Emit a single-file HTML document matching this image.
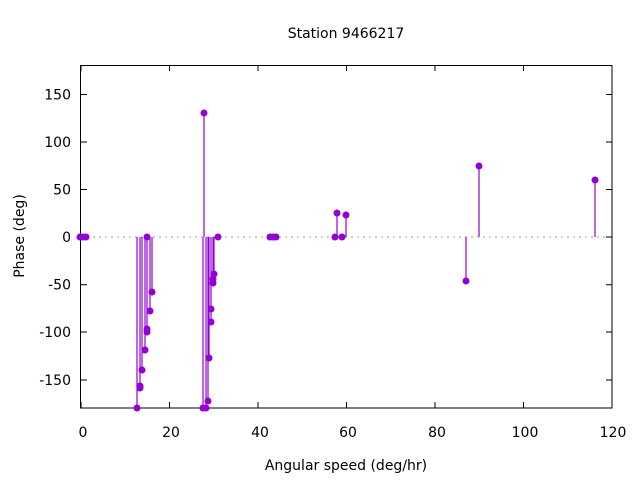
<!DOCTYPE html><html><head><style>body{margin:0;background:#fff}</style></head><body>
<svg width="640" height="480" xmlns="http://www.w3.org/2000/svg" font-family="DejaVu Sans, Liberation Sans, sans-serif" font-size="14">
<rect width="640" height="480" fill="#fff"/>
<text x="346" y="38" text-anchor="middle">Station 9466217</text>
<line x1="81" y1="237" x2="612" y2="237" stroke="#a0a0a0" stroke-dasharray="2,4"/>
<g stroke="#000" stroke-width="1">
<rect x="80.5" y="65.5" width="531.5" height="342.5" fill="none"/>
<path d="M81,408v-6M81,65v6M169.5,408v-6M169.5,65v6M258,408v-6M258,65v6M346.5,408v-6M346.5,65v6M435,408v-6M435,65v6M523.5,408v-6M523.5,65v6
M81,94.5h6M612,94.5h-6M81,142h6M612,142h-6M81,189.5h6M612,189.5h-6M81,237h6M612,237h-6M81,284.7h6M612,284.7h-6M81,332h6M612,332h-6M81,380h6M612,380h-6"/>
</g>
<g text-anchor="middle">
<text x="83" y="437">0</text><text x="171" y="437">20</text><text x="260" y="437">40</text><text x="348" y="437">60</text><text x="437" y="437">80</text><text x="525" y="437">100</text><text x="613" y="437">120</text>
</g>
<g text-anchor="end">
<text x="71" y="99.5">150</text><text x="71" y="147">100</text><text x="71" y="194.5">50</text><text x="71" y="242">0</text><text x="71" y="289.5">-50</text><text x="71" y="337">-100</text><text x="71" y="385">-150</text>
</g>
<text x="346" y="470" text-anchor="middle">Angular speed (deg/hr)</text>
<text transform="translate(24,236) rotate(-90)" text-anchor="middle">Phase (deg)</text>
<g stroke="#9400d3" stroke-width="1.2">
<path d="M137,237V408M140,237V388M142,237V370M145,237V350M147,237V331M150,237V311M152,237V292M204,237V113M203,237V408M206,237V408M208,237V401M209,237V358M211,237V322M211,237V309M213,237V283M213,237V279M214,237V274M337,237V213M346,237V215M466,237V281M479,237V166M595,237V180"/>
</g>
<g fill="#9400d3">
<circle cx="80" cy="237" r="3.5"/><circle cx="83" cy="237" r="3.5"/><circle cx="86" cy="237" r="3.5"/>
<circle cx="137" cy="408" r="3.5"/><circle cx="140" cy="388" r="3.5"/><circle cx="140" cy="386" r="3.5"/><circle cx="142" cy="370" r="3.5"/><circle cx="145" cy="350" r="3.5"/><circle cx="147" cy="332" r="3.5"/><circle cx="147" cy="329" r="3.5"/><circle cx="147" cy="237" r="3.5"/><circle cx="150" cy="311" r="3.5"/><circle cx="152" cy="292" r="3.5"/>
<circle cx="204" cy="113" r="3.5"/><circle cx="203" cy="408" r="3.5"/><circle cx="206" cy="408" r="3.5"/><circle cx="208" cy="401" r="3.5"/><circle cx="209" cy="358" r="3.5"/><circle cx="211" cy="322" r="3.5"/><circle cx="211" cy="309" r="3.5"/><circle cx="213" cy="283" r="3.5"/><circle cx="213" cy="279" r="3.5"/><circle cx="214" cy="274" r="3.5"/><circle cx="218" cy="237" r="3.5"/>
<circle cx="270" cy="237" r="3.5"/><circle cx="273" cy="237" r="3.5"/><circle cx="276" cy="237" r="3.5"/>
<circle cx="335" cy="237" r="3.5"/><circle cx="337" cy="213" r="3.5"/><circle cx="342" cy="237" r="3.5"/><circle cx="346" cy="215" r="3.5"/>
<circle cx="466" cy="281" r="3.5"/><circle cx="479" cy="166" r="3.5"/><circle cx="595" cy="180" r="3.5"/>
</g>
</svg>
</body></html>
